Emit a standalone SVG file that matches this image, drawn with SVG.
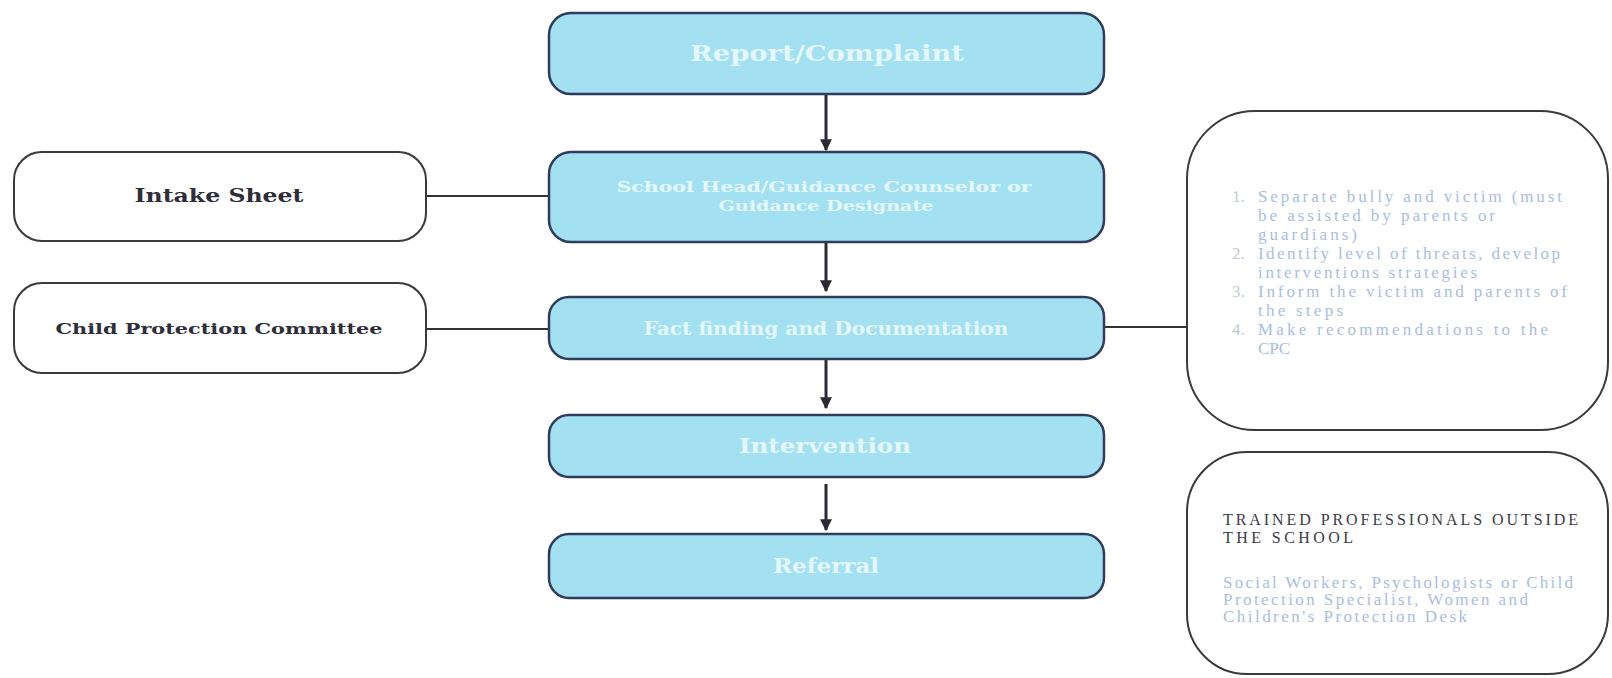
<svg xmlns="http://www.w3.org/2000/svg" width="1612" height="678" viewBox="0 0 1612 678">
<style>
.main rect{fill:#a3e0f2;stroke:#2f3c5c;stroke-width:2.5}
.main text{font-family:"DejaVu Serif",serif;font-weight:bold;fill:#e4f7fc;text-anchor:middle}
.side rect{fill:#fff;stroke:#3a3a3a;stroke-width:2}
.lbl{font-family:"DejaVu Serif",serif;font-weight:bold;fill:#2e2e3a;text-anchor:middle}
.conn line{stroke:#333;stroke-width:2}
.conn .arr{stroke:#2a2a35;stroke-width:3}
.note{font-family:"Liberation Serif",serif;font-size:17px;fill:#a8bedf}
.num{font-family:"Liberation Serif",serif;font-size:17px;fill:#c2cad8}
.head{font-family:"Liberation Serif",serif;font-size:16px;fill:#3a3a48}
</style>
<defs>
<marker id="ah" viewBox="0 0 10 10" refX="9" refY="5" markerWidth="4" markerHeight="4" orient="auto" markerUnits="strokeWidth">
<path d="M0,0 L10,5 L0,10 z" fill="#2a2a35"/>
</marker>
</defs>

<g class="conn" id="connectors">
<line class="arr" x1="826" y1="94" x2="826" y2="150" marker-end="url(#ah)"/>
<line class="arr" x1="826" y1="242" x2="826" y2="291" marker-end="url(#ah)"/>
<line class="arr" x1="826" y1="359" x2="826" y2="408" marker-end="url(#ah)"/>
<line class="arr" x1="826" y1="484" x2="826" y2="530" marker-end="url(#ah)"/>
<line x1="426" y1="196" x2="549" y2="196"/>
<line x1="426" y1="329" x2="549" y2="329"/>
<line x1="1104" y1="327" x2="1187" y2="327"/>
</g>

<g class="main" id="report">
<rect x="549" y="13" width="555" height="81" rx="22"/>
<text x="827" y="61" font-size="22" textLength="274" lengthAdjust="spacingAndGlyphs">Report/Complaint</text>
</g>
<g class="main" id="school-head">
<rect x="549" y="152" width="555" height="90" rx="22"/>
<text x="824" y="192" font-size="15" textLength="415" lengthAdjust="spacingAndGlyphs">School Head/Guidance Counselor or</text>
<text x="826" y="211" font-size="15" textLength="215" lengthAdjust="spacingAndGlyphs">Guidance Designate</text>
</g>
<g class="main" id="fact-finding">
<rect x="549" y="297" width="555" height="62" rx="20"/>
<text x="826" y="335" font-size="18" textLength="365" lengthAdjust="spacingAndGlyphs">Fact finding and Documentation</text>
</g>
<g class="main" id="intervention">
<rect x="549" y="415" width="555" height="62" rx="20"/>
<text x="825" y="453" font-size="20" textLength="172" lengthAdjust="spacingAndGlyphs">Intervention</text>
</g>
<g class="main" id="referral">
<rect x="549" y="534" width="555" height="64" rx="20"/>
<text x="826" y="573" font-size="20" textLength="106" lengthAdjust="spacingAndGlyphs">Referral</text>
</g>

<g class="side" id="intake-sheet">
<rect x="14" y="152" width="412" height="89" rx="28"/>
<text class="lbl" x="219" y="202" font-size="18" textLength="169" lengthAdjust="spacingAndGlyphs">Intake Sheet</text>
</g>
<g class="side" id="cpc">
<rect x="14" y="283" width="412" height="90" rx="28"/>
<text class="lbl" x="219" y="334" font-size="14" textLength="327" lengthAdjust="spacingAndGlyphs">Child Protection Committee</text>
</g>

<g class="side" id="steps">
<rect x="1187" y="111" width="421" height="319" rx="68"/>
<text class="num" x="1232" y="202">1.</text>
<text class="note" x="1258" y="202" textLength="304" lengthAdjust="spacing">Separate bully and victim (must</text>
<text class="note" x="1258" y="221" textLength="237" lengthAdjust="spacing">be assisted by parents or</text>
<text class="note" x="1258" y="240" textLength="99" lengthAdjust="spacing">guardians)</text>
<text class="num" x="1232" y="259">2.</text>
<text class="note" x="1258" y="259" textLength="302" lengthAdjust="spacing">Identify level of threats, develop</text>
<text class="note" x="1258" y="278" textLength="219" lengthAdjust="spacing">interventions strategies</text>
<text class="num" x="1232" y="297">3.</text>
<text class="note" x="1258" y="297" textLength="309" lengthAdjust="spacing">Inform the victim and parents of</text>
<text class="note" x="1258" y="316" textLength="85" lengthAdjust="spacing">the steps</text>
<text class="num" x="1232" y="335">4.</text>
<text class="note" x="1258" y="335" textLength="290" lengthAdjust="spacing">Make recommendations to the</text>
<text class="note" x="1258" y="354" textLength="32" lengthAdjust="spacing">CPC</text>
</g>

<g class="side" id="professionals">
<rect x="1187" y="452" width="421" height="222" rx="60"/>
<text class="head" x="1223" y="525" textLength="355" lengthAdjust="spacing">TRAINED PROFESSIONALS OUTSIDE</text>
<text class="head" x="1223" y="543" textLength="130" lengthAdjust="spacing">THE SCHOOL</text>
<text class="note" x="1223" y="588" textLength="350" lengthAdjust="spacing">Social Workers, Psychologists or Child</text>
<text class="note" x="1223" y="605" textLength="305" lengthAdjust="spacing">Protection Specialist, Women and</text>
<text class="note" x="1223" y="622" textLength="244" lengthAdjust="spacing">Children's Protection Desk</text>
</g>
</svg>
